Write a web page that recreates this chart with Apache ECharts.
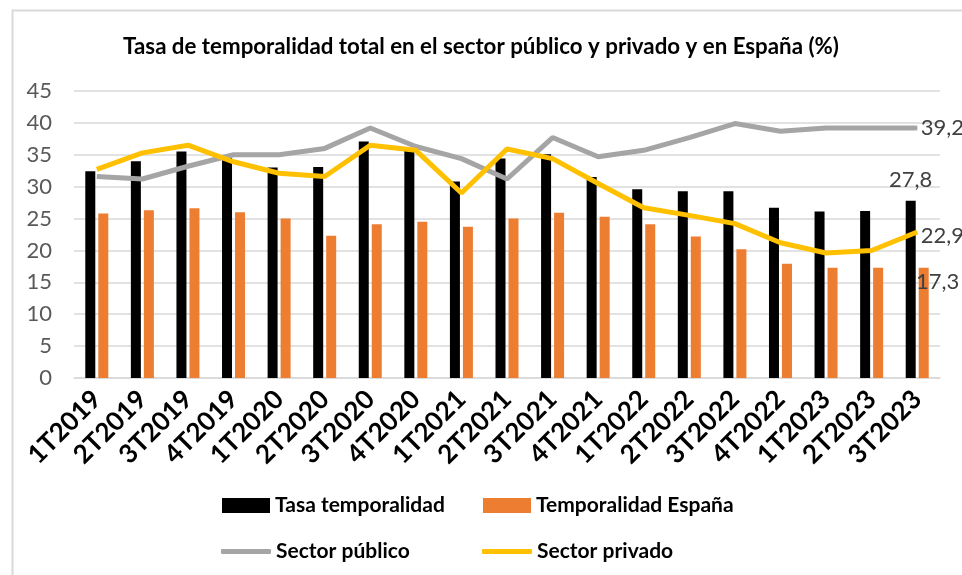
<!DOCTYPE html>
<html>
<head>
<meta charset="utf-8">
<script src="https://cdn.jsdelivr.net/npm/echarts@6/dist/echarts.min.js"></script>
<style>html,body{margin:0;padding:0;background:#fff;}#c{width:962px;height:575px;}</style>
</head>
<body>
<div id="c"></div>
<script>
const categories = ['1T2019','2T2019','3T2019','4T2019','1T2020','2T2020','3T2020','4T2020','1T2021','2T2021','3T2021','4T2021','1T2022','2T2022','3T2022','4T2022','1T2023','2T2023','3T2023'];
const tasaTemporalidad = [32.4,34.0,35.5,34.5,33.0,33.1,37.1,35.7,30.8,34.4,35.1,31.5,29.6,29.3,29.3,26.7,26.1,26.2,27.8];
const temporalidadEspana = [25.8,26.3,26.6,26.0,25.0,22.3,24.1,24.5,23.7,25.0,25.9,25.3,24.1,22.2,20.2,17.9,17.3,17.3,17.3];
const sectorPublico = [31.6,31.2,33.2,35.0,35.0,36.0,39.2,36.3,34.4,31.2,37.7,34.7,35.7,37.7,39.9,38.7,39.2,39.2,39.2];
const sectorPrivado = [32.7,35.3,36.5,33.9,32.1,31.6,36.5,35.7,29.0,35.9,34.4,30.5,26.7,25.5,24.2,21.2,19.6,20.0,22.9];
const yTicks = {min: 0, max: 45, interval: 5};
const title = 'Tasa de temporalidad total en el sector público y privado y en España (%)';

const FONT = 'Lato, "Open Sans", sans-serif';
const labelStyle = {show: true, fontFamily: FONT, fontSize: 22, color: '#404040',
  formatter: p => String(p.value).replace('.', ',')};
function withLastLabel(arr, lbl, extra) {
  return arr.map((v, i) => i === arr.length - 1
    ? Object.assign({value: v, label: Object.assign({}, labelStyle, lbl)}, extra || {})
    : v);
}

const chart = echarts.init(document.getElementById('c'), null, {renderer: 'canvas'});
const legendText = {fontFamily: FONT, fontSize: 21, fontWeight: 'bold', color: '#000'};
chart.setOption({
  animation: false,
  backgroundColor: '#fff',
  graphic: [{type: 'rect', left: 10, top: 8, shape: {width: 1200, height: 800},
    style: {fill: 'none', stroke: '#d9d9d9', lineWidth: 2}, silent: true}],
  title: {text: title, left: 'center', top: 31,
    textStyle: {fontFamily: FONT, fontSize: 22.3, fontWeight: 'bold', color: '#000'}},
  grid: {left: 74, right: 22, top: 91, bottom: 197},
  legend: [
    {data: ['Tasa temporalidad'], left: 217, top: 490, itemWidth: 48, itemHeight: 15, itemGap: 5, icon: 'rect', textStyle: legendText},
    {data: ['Temporalidad España'], left: 478, top: 490, itemWidth: 48, itemHeight: 15, icon: 'rect', textStyle: legendText},
    {data: ['Sector público'], left: 216, top: 536, itemWidth: 50, itemHeight: 5, icon: 'roundRect', textStyle: legendText},
    {data: ['Sector privado'], left: 477, top: 536, itemWidth: 50, itemHeight: 5, icon: 'roundRect', textStyle: legendText}
  ],
  xAxis: {type: 'category', data: categories,
    axisLine: {lineStyle: {color: '#d9d9d9', width: 1.5}}, axisTick: {show: false},
    axisLabel: {interval: 0, rotate: 45, margin: 17, fontFamily: FONT, fontSize: 26, fontWeight: 'bold', color: '#000'}},
  yAxis: {type: 'value', min: yTicks.min, max: yTicks.max, interval: yTicks.interval,
    axisLine: {show: false}, axisTick: {show: false},
    splitLine: {lineStyle: {color: '#d9d9d9', width: 1.5}},
    axisLabel: {margin: 22, fontFamily: FONT, fontSize: 22, color: '#595959'}},
  series: [
    {name: 'Tasa temporalidad', type: 'bar', barWidth: 10, barGap: '30%', itemStyle: {color: '#000000'},
      data: withLastLabel(tasaTemporalidad, {position: 'top', distance: 10})},
    {name: 'Temporalidad España', type: 'bar', barWidth: 10, barGap: '30%', itemStyle: {color: '#ed7d31'},
      data: withLastLabel(temporalidadEspana, {position: 'top', distance: 5, offset: [14, 30]})},
    {name: 'Sector público', type: 'line', symbol: 'none', showSymbol: true, lineStyle: {color: '#a5a5a5', width: 5}, itemStyle: {color: '#a5a5a5'},
      data: withLastLabel(sectorPublico, {position: 'right', distance: 3}, {symbol: 'circle', symbolSize: 1})},
    {name: 'Sector privado', type: 'line', symbol: 'none', showSymbol: true, lineStyle: {color: '#ffc000', width: 5}, itemStyle: {color: '#ffc000'},
      data: withLastLabel(sectorPrivado, {position: 'right', distance: 3, offset: [0, 4]}, {symbol: 'circle', symbolSize: 1})}
  ]
});
</script>
</body>
</html>
